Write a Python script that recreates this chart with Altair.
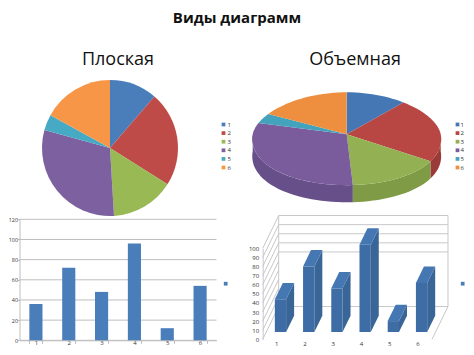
import math
import altair as alt
import pandas as pd

# ---- data
CATEGORIES = ["1", "2", "3", "4", "5", "6"]
VALUES = [36, 72, 48, 96, 12, 54]
COLORS = ["#4A7EBB", "#BE4B48", "#98B954", "#7D60A0", "#46AAC4", "#F79646"]
COLORS_3D = ["#4477B4", "#B84744", "#93B152", "#7A5C9C", "#43A3BC", "#EE8E3F"]
WALLS = ["#3B6797", "#9A3B39", "#7F9B45", "#67508A", "#3A8CA3", "#C9772F"]
TICKS_FLAT = [0, 20, 40, 60, 80, 100, 120]
TICKS_3D = [0, 10, 20, 30, 40, 50, 60, 70, 80, 90, 100]
BACK_LINES = [0, 60, 70, 80, 90, 100]
TITLE = "Виды диаграмм"
PIE_TITLES = ["Плоская", "Объемная"]

W, H = 458, 339
FONT = "Open Sans"
GRAY = "#BEBEBE"
TXT = "#333333"


def px(p):
    """reference-picture pixel -> canvas pixel (page margin is 8)"""
    return p - 8


noax = dict(axis=None)
blue_scale = alt.Scale(domain=CATEGORIES, range=COLORS)
df = pd.DataFrame({"c": CATEGORIES, "v": VALUES})
layers = []


# ---- titles
def text(s, x, y, size, bold=False):
    return alt.Chart(pd.DataFrame({"t": [s]})).mark_text(
        font=FONT, fontSize=size, fontWeight="bold" if bold else "normal",
        color="#111111", align="center", baseline="middle"
    ).encode(text="t:N", x=alt.value(px(x)), y=alt.value(px(y)))


layers += [text(TITLE, 237, 18, 15, True),
           text(PIE_TITLES[0], 118, 60, 18),
           text(PIE_TITLES[1], 355, 60, 18)]


def legend(x, y, offset=1):
    return alt.Legend(orient="none", legendX=px(x), legendY=px(y), title=None,
                      symbolType="square", symbolSize=14, symbolStrokeWidth=0,
                      labelFont=FONT, labelFontSize=6, labelColor=TXT,
                      labelOffset=offset, rowPadding=2.6, padding=0)


# ---- flat pie
layers.append(
    alt.Chart(df).mark_arc(outerRadius=68, innerRadius=0).encode(
        theta=alt.Theta("v:Q", stack=True),
        order=alt.Order("c:N"),
        color=alt.Color("c:N", scale=blue_scale, legend=legend(220.5, 121.5)),
        x=alt.value(px(110)), y=alt.value(px(148)),
    )
)

# ---- 3D pie: tilted disc, slice angles follow the values
total = sum(VALUES)
edges = [0.0]
for v in VALUES:
    edges.append(edges[-1] + v / total * 360)


def rim(t):
    r = math.radians(t)
    s, c = math.sin(r), math.cos(r)
    return s * (1 - 0.1 * c), c if c > 0 else c * 1.22


def sweep(a, b):
    n = max(2, int((b - a) / 3) + 1)
    return [a + (b - a) * k / n for k in range(n + 1)]


DEPTH = 0.41
tops, walls = [], []
for c, a, b in zip(CATEGORIES, edges[:-1], edges[1:]):
    pts = [(0.0, 0.0)] + [rim(t) for t in sweep(a, b)]
    tops += [dict(c=c, i=i, x=p[0], y=p[1]) for i, p in enumerate(pts)]
    a2, b2 = max(a, 90), min(b, 270)
    if a2 < b2:
        r = [rim(t) for t in sweep(a2, b2)]
        poly_pts = r + [(p[0], p[1] - DEPTH) for p in reversed(r)]
        walls += [dict(c=c, i=i, x=p[0], y=p[1]) for i, p in enumerate(poly_pts)]

px3 = alt.Scale(domain=[-1, 1], range=[px(252.7), px(440.7)])
py3 = alt.Scale(domain=[-1.22 - DEPTH, 1], range=[px(202.3), px(92.3)])


def poly(data, scale_x, scale_y, color):
    return alt.Chart(pd.DataFrame(data)).mark_line(
        interpolate="linear-closed", filled=True, strokeWidth=0
    ).encode(
        x=alt.X("x:Q", scale=scale_x, **noax),
        y=alt.Y("y:Q", scale=scale_y, **noax),
        order=alt.Order("i:Q"),
        detail="d:N" if "d" in data[0] else alt.Undefined,
        **color,
    )


layers.append(poly(walls, px3, py3, dict(
    color=alt.Color("c:N", scale=alt.Scale(domain=CATEGORIES, range=WALLS), legend=None))))
layers.append(poly(tops, px3, py3, dict(
    color=alt.Color("c:N", scale=alt.Scale(domain=CATEGORIES, range=COLORS_3D),
                    legend=legend(454.5, 121.5, 0)))))

# ---- flat column chart
xs = alt.Scale(domain=CATEGORIES, range=[px(19.5), px(216.5)], paddingInner=0.6, paddingOuter=0.3)
ys = alt.Scale(domain=[0, 120], range=[px(340.3), px(219.3)])
layers.append(
    alt.Chart(pd.DataFrame({"v": TICKS_FLAT})).mark_rule(color=GRAY, strokeWidth=1).encode(
        y=alt.Y("v:Q", scale=ys, axis=alt.Axis(
            orient="left", offset=-px(19.5), values=TICKS_FLAT, title=None, grid=False,
            domainColor=GRAY, tickColor=GRAY, tickSize=2, labelFont=FONT, labelFontSize=5.4,
            labelColor=TXT, labelPadding=0)),
        x=alt.value(px(19.5)), x2=alt.value(px(216.5)),
    )
)
layers.append(
    alt.Chart(df).mark_bar(color="#4A7EBB").encode(
        x=alt.X("c:N", scale=xs, axis=alt.Axis(
            orient="bottom", offset=-(H - px(340.3)), title=None, labelAngle=0, grid=False,
            domainColor=GRAY, tickColor=GRAY, tickSize=3, tickBand="extent", labelFont=FONT,
            labelFontSize=6, labelColor=TXT, labelPadding=-3.5)),
        y=alt.Y("v:Q", scale=ys, **noax),
    )
)

# ---- 3D column chart (value units on y, category units on x)
cx_band = alt.Scale(domain=CATEGORIES, range=[px(262.7), px(432)], paddingInner=1, paddingOuter=0.5)
qy = alt.Scale(domain=[0, 100], range=[px(339.3), px(248.3)])
FLOOR_X, FLOOR_V = 0.567, 36
LAST = 6.5

left_wall = pd.DataFrame([dict(x=0.5, x2=0.5 + FLOOR_X, y=v, y2=v + FLOOR_V) for v in TICKS_3D])
back = pd.DataFrame([dict(x=0.5 + FLOOR_X, x2=LAST + FLOOR_X, y=v + FLOOR_V, y2=v + FLOOR_V)
                     for v in BACK_LINES])
frame = pd.DataFrame([
    dict(x=0.5 + FLOOR_X, x2=0.5 + FLOOR_X, y=FLOOR_V, y2=100 + FLOOR_V),
    dict(x=LAST + FLOOR_X, x2=LAST + FLOOR_X, y=FLOOR_V, y2=100 + FLOOR_V),
    dict(x=LAST, x2=LAST + FLOOR_X, y=0, y2=FLOOR_V),
])
qx_extended = alt.Scale(domain=[0.5, 7.5], range=[px(262.7), px(432 + 28.217)])
qy_extended = alt.Scale(domain=[0, 140], range=[px(339.3), px(339.3 - 127.4)])
for d in (left_wall, back, frame):
    layers.append(alt.Chart(d).mark_rule(color="#C8C8C8", strokeWidth=1).encode(
        x=alt.X("x:Q", scale=qx_extended, **noax), x2="x2:Q",
        y=alt.Y("y:Q", scale=qy_extended, **noax), y2="y2:Q"))

layers.append(
    alt.Chart(pd.DataFrame({"v": TICKS_3D})).mark_tick(opacity=0).encode(
        y=alt.Y("v:Q", scale=qy, axis=alt.Axis(
            orient="left", offset=-px(262.7), values=TICKS_3D, title=None, grid=False,
            domainColor="#C8C8C8", ticks=False, labelFont=FONT, labelFontSize=6,
            labelColor=TXT, labelPadding=4)),
    )
)
layers.append(
    alt.Chart(df).mark_tick(opacity=0).encode(
        x=alt.X("c:N", scale=cx_band, axis=alt.Axis(
            orient="bottom", offset=-(H - 333), title=None, labelAngle=0, grid=False,
            domain=False, ticks=False, labelFont=FONT, labelFontSize=6,
            labelColor=TXT, labelPadding=-1)),
    )
)

BAR_HALF, DX, DV = 0.2, 0.283, 18
SHIFT_X, BASE = 0.13, 8
sides, tops3, fronts = [], [], []
for k, (c, v) in enumerate(zip(CATEGORIES, VALUES)):
    x0 = k + 1 + SHIFT_X - BAR_HALF
    x1 = k + 1 + SHIFT_X + BAR_HALF
    for i, (a, b) in enumerate([(x1, BASE), (x1 + DX, BASE + DV), (x1 + DX, BASE + DV + v), (x1, BASE + v)]):
        sides.append(dict(d=c, c="side", i=i, x=a, y=b))
    for i, (a, b) in enumerate([(x0, BASE + v), (x1, BASE + v), (x1 + DX, BASE + v + DV), (x0 + DX, BASE + v + DV)]):
        tops3.append(dict(d=c, c="top", i=i, x=a, y=b))
    fronts.append(dict(x=x0, x2=x1, y=BASE, y2=BASE + v))

layers.append(poly(sides, qx_extended, qy_extended, dict(color=alt.value("#3A6597"))))
layers.append(poly(tops3, qx_extended, qy_extended, dict(color=alt.value("#4577B3"))))
layers.append(alt.Chart(pd.DataFrame(fronts)).mark_rect(color="#3E6DA6").encode(
    x=alt.X("x:Q", scale=qx_extended, **noax), x2="x2:Q",
    y=alt.Y("y:Q", scale=qy_extended, **noax), y2="y2:Q"))

# ---- series keys of the two column charts (series has no visible name)
for lx in (225.7, 462.7):
    layers.append(alt.Chart(pd.DataFrame({"s": [""]})).mark_square(
        size=14, color="#4A7EBB", opacity=1).encode(x=alt.value(px(lx)), y=alt.value(px(283.7))))

chart = alt.layer(*layers).resolve_scale(
    x="independent", y="independent", color="independent", theta="independent"
).properties(
    width=W, height=H, padding=0, autosize=alt.AutoSizeParams(type="none")
).configure_view(stroke=None)

chart.save("out.html", embed_options={"renderer": "svg", "actions": False})
